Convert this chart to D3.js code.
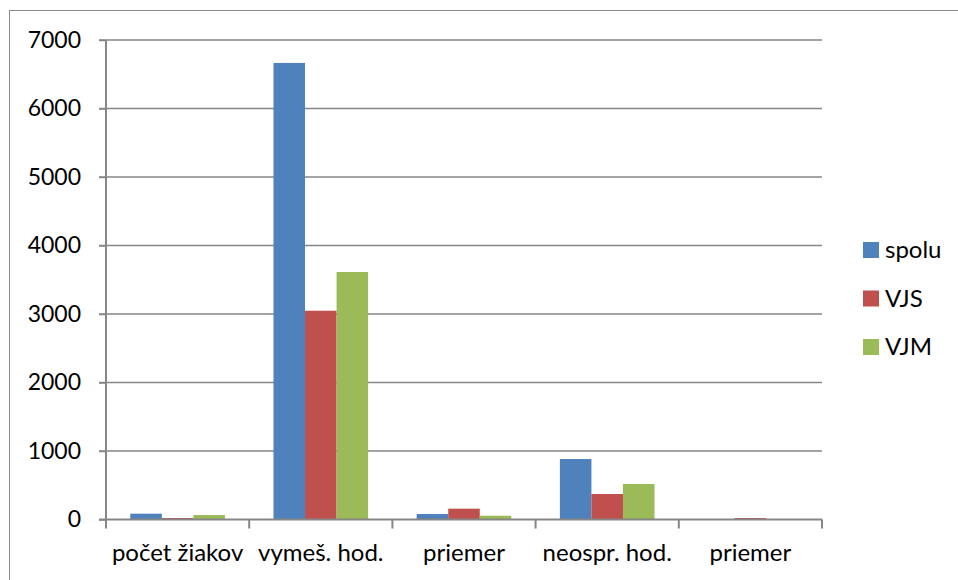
<!DOCTYPE html>
<html><head><meta charset="utf-8">
<script src="https://cdn.jsdelivr.net/npm/d3@7"></script>
<style>body{margin:0;background:#fff}svg{display:block}text{font-family:Lato,"Open Sans",sans-serif;fill:#000}</style>
</head><body><svg id="c" width="958" height="580"></svg>
<script>
const categories = ["počet žiakov","vymeš. hod.","priemer","neospr. hod.","priemer"];
const seriesNames = ["spolu","VJS","VJM"];
const spolu = [85, 6665, 80, 883, 4];
const vjs = [22, 3048, 158, 372, 22];
const vjm = [65, 3613, 55, 518, 3];
const yTicks = [0,1000,2000,3000,4000,5000,6000,7000];
const colors = ["#4F81BD","#C0504D","#9BBB59"];

const series = [spolu, vjs, vjm];
const svg = d3.select("#c");
const m = {l:106, r:822, t:40, b:519.5};

svg.append("rect").attr("x",9.5).attr("y",10.5).attr("width",1000).attr("height",1000)
  .attr("fill","none").attr("stroke","#8c8c8c").attr("stroke-width",1);

const x = d3.scaleBand().domain(categories.map((c,i)=>i)).range([m.l,m.r]).paddingInner(0).paddingOuter(0);
const xs = d3.scaleBand().domain([0,1,2]).range([0,x.bandwidth()]).paddingInner(0).paddingOuter(0.77);
const y = d3.scaleLinear().domain([0,7000]).range([m.b,m.t]);

// gridlines
svg.append("g").selectAll("line").data(yTicks.slice(1)).join("line")
  .attr("x1",m.l-7).attr("x2",m.r).attr("y1",d=>y(d)).attr("y2",d=>y(d))
  .attr("stroke","#868686").attr("stroke-width",1.5);

// bars
const g = svg.append("g");
series.forEach((vals,si)=>{
  g.selectAll(null).data(vals).join("rect")
    .attr("x",(d,i)=>x(i)+xs(si)).attr("width",xs.bandwidth())
    .attr("y",d=>y(d)).attr("height",d=>m.b-y(d))
    .attr("fill",colors[si]);
});

// y axis
const ya = d3.axisLeft(y).tickValues(yTicks).tickSize(7).tickPadding(18).tickFormat(d3.format("d"));
const yg = svg.append("g").attr("transform",`translate(${m.l},0)`).call(ya);
yg.select(".domain").attr("stroke","#868686").attr("stroke-width",2).attr("d",`M0,${m.t}V${m.b+1}`);
yg.selectAll(".tick line").attr("stroke","#868686").attr("stroke-width",1.5);
yg.selectAll(".tick text").style("font-size","23px").attr("fill","#000");

// x axis
const xb = d3.scaleLinear().domain([0,5]).range([m.l,m.r]);
const xg = svg.append("g");
xg.append("line").attr("x1",m.l-7).attr("x2",m.r).attr("y1",m.b).attr("y2",m.b).attr("stroke","#868686").attr("stroke-width",2);
xg.selectAll(".tk").data(d3.range(6)).join("line")
  .attr("x1",d=>xb(d)).attr("x2",d=>xb(d)).attr("y1",m.b).attr("y2",m.b+9)
  .attr("stroke","#868686").attr("stroke-width",2);
xg.selectAll("text").data(categories).join("text")
  .attr("x",(d,i)=>x(i)+x.bandwidth()/2).attr("y",561).attr("text-anchor","middle")
  .style("font-size","24px").text(d=>d);

// legend
const lg = svg.append("g");
seriesNames.forEach((n,i)=>{
  const cy = 250 + i*48.5;
  lg.append("rect").attr("x",863).attr("y",cy-8).attr("width",16).attr("height",16).attr("fill",colors[i]);
  lg.append("text").attr("x",885).attr("y",cy).attr("dy","0.35em").style("font-size","24px").text(n);
});
</script></body></html>
